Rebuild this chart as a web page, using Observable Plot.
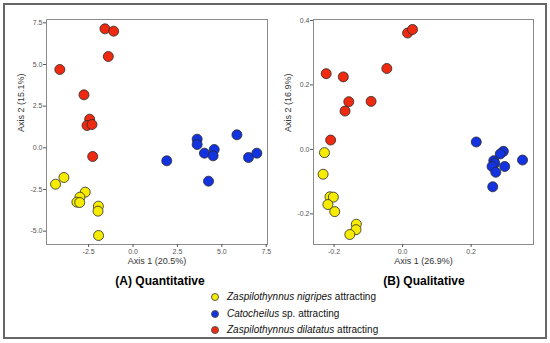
<!DOCTYPE html>
<html><head><meta charset="utf-8">
<script src="https://cdn.jsdelivr.net/npm/d3@7"></script>
<script src="https://cdn.jsdelivr.net/npm/@observablehq/plot@0.6"></script>
<style>
html,body{margin:0;padding:0;background:#fff;}
#wrap{position:relative;width:550px;height:343px;overflow:hidden;font-family:"Liberation Sans",Arial,sans-serif;}
#border{position:absolute;left:3px;top:3px;width:540px;height:332px;border:2px solid #666;}
.panel{position:absolute;top:0;}
.ptitle{position:absolute;top:274px;font-weight:bold;font-size:12px;color:#000;transform:translateX(-50%);white-space:nowrap;}
#legend{position:absolute;left:211px;top:289px;font-size:10px;color:#111;}
.lrow{height:16.5px;line-height:14px;display:flex;align-items:center;}
.lrow span.dot{display:inline-block;width:6px;height:6px;border-radius:50%;border:0.8px solid #555;margin-right:8px;}
</style></head>
<body><div id="wrap"><div id="border"></div></div>
<script>
// ---- data ----
const species = ["Zaspilothynnus nigripes", "Catocheilus sp.", "Zaspilothynnus dilatatus"];
const speciesColors = ["#f7ec00", "#1233df", "#ee2b10"];
const panelTitles = ["(A) Quantitative", "(B) Qualitative"];

// (A) Quantitative
const quantAxisX = "Axis 1 (20.5%)";
const quantAxisY = "Axis 2 (15.1%)";
const quantTicksX = [-2.5, 0, 2.5, 5, 7.5];
const quantTicksY = [-5, -2.5, 0, 2.5, 5, 7.5];
const quantNigripesX = [-4.36, -3.89, -2.69, -2.99, -3.16, -3.0, -1.95, -1.97, -1.94];
const quantNigripesY = [-2.18, -1.78, -2.66, -2.96, -3.26, -3.28, -3.5, -3.8, -5.26];
const quantCatocheilusX = [1.90, 3.61, 3.61, 4.02, 4.57, 4.51, 4.25, 5.85, 6.50, 6.97];
const quantCatocheilusY = [-0.78, 0.52, 0.20, -0.32, -0.10, -0.48, -2.00, 0.78, -0.58, -0.32];
const quantDilatatusX = [-1.58, -1.09, -1.39, -4.12, -2.76, -2.44, -2.59, -2.31, -2.27];
const quantDilatatusY = [7.14, 7.00, 5.48, 4.70, 3.18, 1.72, 1.34, 1.40, -0.52];

// (B) Qualitative
const qualAxisX = "Axis 1 (26.9%)";
const qualAxisY = "Axis 2 (16.9%)";
const qualTicksX = [-0.2, 0, 0.2];
const qualTicksY = [-0.2, 0, 0.2, 0.4];
const qualNigripesX = [-0.228, -0.232, -0.212, -0.202, -0.218, -0.198, -0.135, -0.136, -0.154];
const qualNigripesY = [-0.010, -0.077, -0.147, -0.148, -0.171, -0.193, -0.232, -0.249, -0.264];
const qualCatocheilusX = [0.215, 0.294, 0.285, 0.350, 0.266, 0.269, 0.261, 0.298, 0.272, 0.263];
const qualCatocheilusY = [0.023, -0.006, -0.014, -0.033, -0.035, -0.043, -0.053, -0.053, -0.071, -0.116];
const qualDilatatusX = [0.0146, 0.029, -0.046, -0.223, -0.173, -0.157, -0.092, -0.168, -0.210];
const qualDilatatusY = [0.361, 0.372, 0.251, 0.235, 0.225, 0.148, 0.149, 0.119, 0.029];

function rows(groups) {
  const out = [];
  groups.forEach(([xs, ys], i) => xs.forEach((x, j) => out.push({x, y: ys[j], species: species[i]})));
  return out;
}
const quantData = rows([[quantNigripesX, quantNigripesY], [quantCatocheilusX, quantCatocheilusY], [quantDilatatusX, quantDilatatusY]]);
const qualData = rows([[qualNigripesX, qualNigripesY], [qualCatocheilusX, qualCatocheilusY], [qualDilatatusX, qualDilatatusY]]);

const fmt = d => d.toFixed(1);

function panel(data, opts) {
  return Plot.plot({
    width: 275, height: 270,
    marginLeft: opts.ml, marginRight: opts.mr, marginTop: 19, marginBottom: 26,
    style: {fontFamily: "Liberation Sans, Arial, sans-serif", fontSize: "7px", background: "transparent", overflow: "visible"},
    x: {domain: opts.xd},
    y: {domain: opts.yd},
    color: {domain: species, range: speciesColors},
    marks: [
      Plot.frame({stroke: "#8a8a8a", strokeWidth: 1}),
      Plot.axisX({ticks: opts.tx, tickFormat: fmt, tickSize: 3, tickPadding: 2, fill: "#555", stroke: "#555", label: null}),
      Plot.axisY({ticks: opts.ty, tickFormat: fmt, tickSize: 3, tickPadding: 1, fill: "#555", stroke: "#555", label: null}),
      Plot.text([opts.lx], {text: d => d, frameAnchor: "bottom", dy: 19, fontSize: 9, fill: "#333"}),
      Plot.text([opts.ly], {text: d => d, frameAnchor: "left", dx: -25, rotate: -90, fontSize: 9, fill: "#333"}),
      Plot.dot(data, {x: "x", y: "y", fill: "species", r: 5, stroke: "#2a2a2a", strokeWidth: 0.8})
    ]
  });
}

const wrap = document.getElementById("wrap");
const pA = panel(quantData, {ml: 46, mr: 8, xd: [-4.87, 7.57], yd: [-5.80, 7.70], tx: quantTicksX, ty: quantTicksY, lx: quantAxisX, ly: quantAxisY});
const pB = panel(qualData, {ml: 38, mr: 17, xd: [-0.260, 0.382], yd: [-0.295, 0.403], tx: qualTicksX, ty: qualTicksY, lx: qualAxisX, ly: qualAxisY});
const dA = document.createElement("div"); dA.className = "panel"; dA.style.left = "0px"; dA.appendChild(pA); wrap.appendChild(dA);
const dB = document.createElement("div"); dB.className = "panel"; dB.style.left = "275px"; dB.appendChild(pB); wrap.appendChild(dB);

[[panelTitles[0], 160], [panelTitles[1], 424]].forEach(([t, cx]) => {
  const d = document.createElement("div"); d.className = "ptitle"; d.style.left = cx + "px"; d.textContent = t; wrap.appendChild(d);
});

const legend = document.createElement("div"); legend.id = "legend";
species.forEach((s, i) => {
  const r = document.createElement("div"); r.className = "lrow";
  const dot = document.createElement("span"); dot.className = "dot"; dot.style.background = speciesColors[i];
  r.appendChild(dot);
  const parts = s.split(" ");
  const it = document.createElement("i");
  const nm = document.createElement("span");
  if (parts[1] === "sp.") { it.textContent = parts[0]; nm.textContent = "\u00a0sp. attracting"; }
  else { it.textContent = s; nm.textContent = "\u00a0attracting"; }
  r.appendChild(it); r.appendChild(nm);
  legend.appendChild(r);
});
wrap.appendChild(legend);
</script></body></html>
